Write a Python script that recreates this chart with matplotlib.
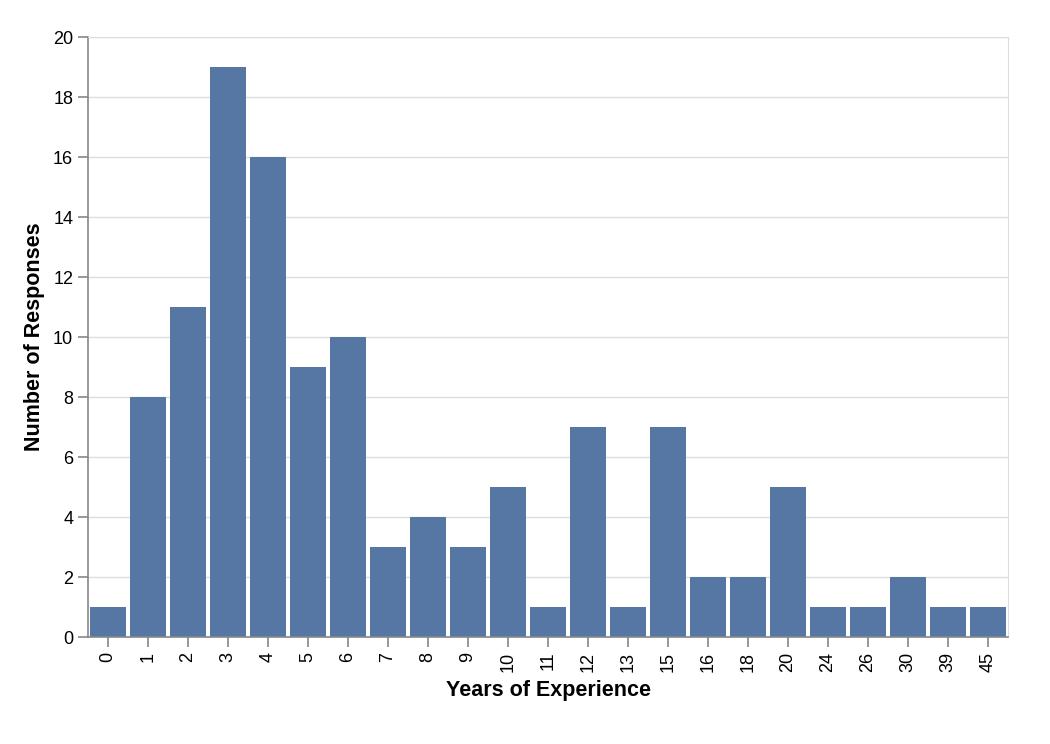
import matplotlib
matplotlib.use('Agg')
import matplotlib.pyplot as plt
import numpy as np

years = ['0', '1', '2', '3', '4', '5', '6', '7', '8', '9', '10', '11', '12', '13',
         '15', '16', '18', '20', '24', '26', '30', '39', '45']
responses = [1, 8, 11, 19, 16, 9, 10, 3, 4, 3, 5, 1, 7, 1, 7, 2, 2, 5, 1, 1, 2, 1, 1]
y_ticks = [0, 2, 4, 6, 8, 10, 12, 14, 16, 18, 20]

plt.rcParams['font.family'] = ['Liberation Sans', 'DejaVu Sans']

fig = plt.figure(figsize=(10.5, 7.44), dpi=100)
ax = fig.add_axes([88 / 1050, (744 - 637) / 744, 920 / 1050, 600 / 744])

x = np.arange(len(years))
ax.bar(x, responses, width=0.9, color='#5677a4', zorder=2)

ax.set_xlim(-0.5, len(years) - 0.5)
ax.set_ylim(0, 20)
ax.set_xticks(x)
ax.set_xticklabels(years, rotation=90, fontsize=13)
ax.set_yticks(y_ticks)
ax.set_yticklabels([str(v) for v in y_ticks], fontsize=13)
ax.yaxis.grid(True, color='#dddddd', linewidth=1, zorder=0)
ax.set_axisbelow(True)

for side in ['top', 'right']:
    ax.spines[side].set_color('#dddddd')
for side in ['left', 'bottom']:
    ax.spines[side].set_color('#888888')
    ax.spines[side].set_linewidth(1.2)
ax.tick_params(axis='both', color='#888888', length=7.2, width=1.2, pad=3.5)

ax.set_xlabel('Years of Experience', fontsize=15.5, fontweight='bold', labelpad=6)
ax.set_ylabel('Number of Responses', fontsize=15.5, fontweight='bold', labelpad=6)

fig.savefig('out.png', dpi=100)
